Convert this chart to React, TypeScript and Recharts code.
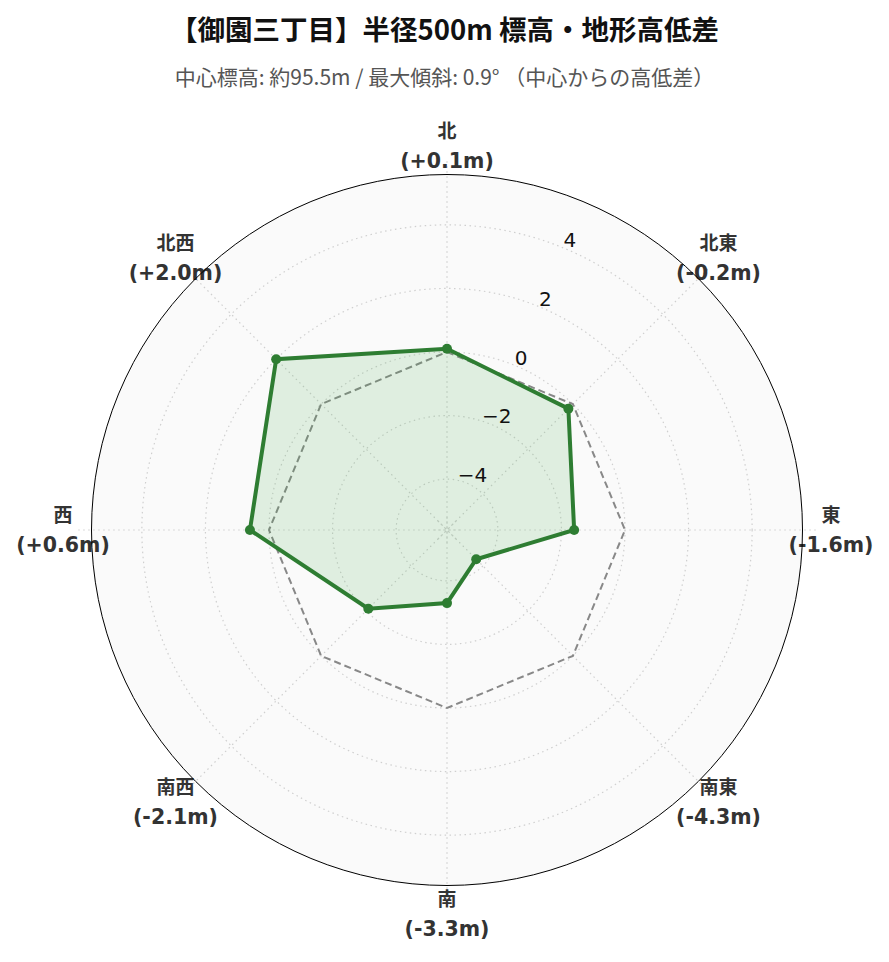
import React from 'react'
import { RadarChart, Radar, PolarGrid, PolarAngleAxis, PolarRadiusAxis } from 'recharts'

const directions = ['北', '北東', '東', '南東', '南', '南西', '西', '北西']
const heightDiffs = [0.1, -0.2, -1.6, -4.3, -3.3, -2.1, 0.6, 2.0]
const baseline = [0, 0, 0, 0, 0, 0, 0, 0]
const radiusTicks = [-4, -2, 0, 2, 4]

const data = directions.map((dir, i) => ({ dir, diff: heightDiffs[i], zero: baseline[i] }))

const W = 889
const H = 962
const CX = 447
const CY = 530
const R = 356
const FONT = '"DejaVu Sans", "Noto Sans CJK JP", sans-serif'

// recharts rounds the radius domain out to whole numbers, so the visible
// limit (±5.6) is reached by stretching the radius range instead
const LIMIT = 5.6
const DOMAIN = [-6, 6]
const PX_PER_UNIT = R / (2 * LIMIT)
const INNER = (DOMAIN[0] + LIMIT) * PX_PER_UNIT
const OUTER = R + (DOMAIN[1] - LIMIT) * PX_PER_UNIT

const fmt = (v: number) => (v >= 0 ? `(+${v.toFixed(1)}m)` : `(${v.toFixed(1)}m)`)

function AngleTick(props: any) {
  const { payload, index } = props
  const angle = payload.coordinate
  const rad = (-angle * Math.PI) / 180
  const x = CX + 384 * Math.cos(rad)
  const y = CY + 384 * Math.sin(rad)
  return (
    <g>
      <text x={x} y={y - 15} textAnchor="middle" dominantBaseline="central"
        fontFamily={FONT} fontWeight="bold" fontSize={19} fill="#333">{payload.value}</text>
      <text x={x} y={y + 15} textAnchor="middle" dominantBaseline="central"
        fontFamily={FONT} fontWeight="bold" fontSize={20.5} fill="#333">{fmt(heightDiffs[index])}</text>
    </g>
  )
}

function RadiusTick(props: any) {
  const { x, y, payload } = props
  const v = payload.value
  const label = v < 0 ? `\u2212${Math.abs(v)}` : `${v}`
  return (
    <text x={x + 6} y={y - 8} textAnchor="middle" dominantBaseline="central"
      fontFamily={FONT} fontSize={20} fill="#111">{label}</text>
  )
}

export default function App() {
  return (
    <div style={{ position: 'absolute', left: 0, top: 0, width: W, height: H, background: '#fff' }}>
      <div style={{ position: 'absolute', left: 0, width: W, top: 9, textAlign: 'center',
        fontFamily: '"Noto Sans CJK JP", sans-serif', fontWeight: 'bold', fontSize: 27.5, color: '#111', lineHeight: '38px' }}>
        【御園三丁目】半径500m 標高・地形高低差
      </div>
      <div style={{ position: 'absolute', left: 0, width: W, top: 61, textAlign: 'center',
        fontFamily: '"Noto Sans CJK JP", sans-serif', fontSize: 21, color: '#555', lineHeight: '30px' }}>
        中心標高: 約95.5m / 最大傾斜: 0.9° （中心からの高低差）
      </div>
      <div style={{ position: 'absolute', left: CX - R, top: CY - R, width: 2 * R, height: 2 * R,
        borderRadius: '50%', background: '#fafafa' }} />
      <div style={{ position: 'absolute', left: 0, top: 0 }}>
        <RadarChart width={W} height={H} data={data} cx={CX} cy={CY} outerRadius={OUTER} innerRadius={INNER}
          margin={{ top: 0, right: 0, bottom: 0, left: 0 }}>
          <PolarGrid gridType="circle" stroke="#cfcfcf" strokeDasharray="1.5 3.5" strokeWidth={1.2}
            innerRadius={0} outerRadius={R} />
          <PolarAngleAxis dataKey="dir" tick={AngleTick} tickLine={false} axisLine={false} />
          <PolarRadiusAxis type="number" domain={DOMAIN} ticks={radiusTicks}
            angle={67.5} tick={RadiusTick} axisLine={false} tickLine={false} allowDataOverflow />
          <Radar dataKey="zero" stroke="#888" strokeWidth={2} strokeDasharray="7 4" fill="none"
            fillOpacity={0} dot={false} isAnimationActive={false} />
          <Radar dataKey="diff" stroke="#2e7d32" strokeWidth={4} fill="#4caf50" fillOpacity={0.15}
            dot={{ r: 5, fill: '#2e7d32', stroke: '#2e7d32', strokeWidth: 0, fillOpacity: 1 }}
            isAnimationActive={false} />
        </RadarChart>
      </div>
      <div style={{ position: 'absolute', left: CX - R, top: CY - R, width: 2 * R, height: 2 * R,
        borderRadius: '50%', boxSizing: 'border-box', border: '1.5px solid #000', pointerEvents: 'none' }} />
    </div>
  )
}
